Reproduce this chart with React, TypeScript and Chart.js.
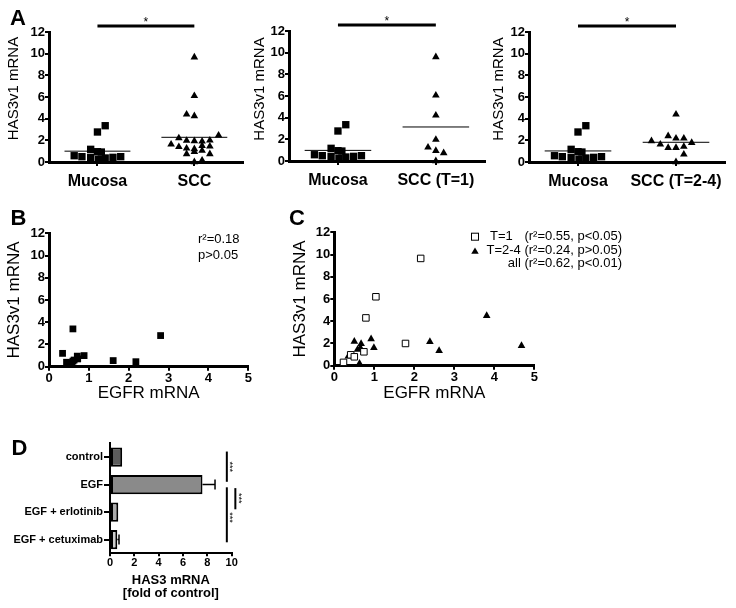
import React, { useEffect, useRef } from "react";
import { Chart, registerables } from "chart.js";

Chart.register(...registerables);

const FONT = "'Liberation Sans', Arial, Helvetica, sans-serif";
Chart.defaults.font.family = FONT;
Chart.defaults.color = "#000";

// ---------------- data ----------------
const has3TickValues = [0, 2, 4, 6, 8, 10, 12];
const egfrTickValues = [0, 1, 2, 3, 4, 5];

const groupsA1 = ["Mucosa", "SCC"];
const groupsA2 = ["Mucosa", "SCC (T=1)"];
const groupsA3 = ["Mucosa", "SCC (T=2-4)"];

const mucosaValues = [0.58, 0.49, 0.43, 0.25, 0.37, 0.43, 0.49, 1.17, 0.95, 0.92, 2.77, 3.35];
const mucosaSpread = [-0.24, -0.16, -0.07, 0.01, 0.08, 0.16, 0.24, -0.07, 0, 0.04, 0, 0.08];

const sccAllValues = [9.67, 6.1, 4.4, 4.25, 1.63, 2.2, 1.97, 1.94, 1.9, 2.0, 2.46, 1.4, 1.26, 1.2, 1.5, 1.45, 0.74, 0.95, 1.05, 0.74, 0, 0.15];
const sccAllSpread = [0, 0, -0.08, 0, -0.24, -0.16, -0.08, 0, 0.08, 0.16, 0.25, -0.16, -0.08, 0, 0.08, 0.16, -0.08, 0, 0.08, 0.16, 0, 0.08];

const sccT1Values = [9.6, 6.06, 4.21, 1.97, 1.26, 0.95, 0.74, 0];
const sccT1Spread = [0, 0, 0, 0, -0.08, 0, 0.08, 0];

const sccT24Values = [4.4, 1.94, 1.63, 2.4, 1.32, 2.19, 1.32, 2.19, 1.42, 1.78, 0.71, 0];
const sccT24Spread = [0, -0.25, -0.16, -0.08, -0.08, 0, 0, 0.08, 0.08, 0.16, 0.08, 0];

const meansA1 = [1.0, 2.28];
const meansA2 = [0.98, 3.14];
const meansA3 = [1.02, 1.82];

const bEgfr = [0.34, 0.44, 0.5, 0.57, 0.6, 0.63, 0.6, 0.71, 0.72, 0.88, 1.61, 2.18, 2.8];
const bHas3 = [1.2, 0.4, 0.3, 0.25, 0.5, 0.6, 3.4, 0.95, 0.7, 1.0, 0.55, 0.45, 2.8];
const bNotes = ["r\u00b2=0.18", "p>0.05"];

const cT1Egfr = [2.16, 1.04, 0.79, 1.78, 0.74, 0.41, 0.5, 0.23];
const cT1Has3 = [9.65, 6.2, 4.3, 2.0, 1.25, 0.98, 0.8, 0.3];
const cT24Egfr = [3.81, 4.68, 2.39, 2.62, 0.92, 0.99, 0.5, 0.67, 0.65, 0.58, 0.35, 0.63];
const cT24Has3 = [4.5, 1.8, 2.16, 1.35, 2.4, 1.62, 2.18, 1.98, 1.62, 1.45, 0.84, 0.2];
const cLegendLeft = ["T=1", "", ""];
const cLegendRight = ["(r\u00b2=0.55, p<0.05)", "T=2-4 (r\u00b2=0.24, p>0.05)", "all (r\u00b2=0.62, p<0.01)"];

const dTreatments = ["control", "EGF", "EGF + erlotinib", "EGF + cetuximab"];
const dFold = [1.0, 7.6, 0.68, 0.6];
const dError = [0, 1.03, 0, 0.14];
const dTickValues = [0, 2, 4, 6, 8, 10];
const dBarColors = ["#5c5c5c", "#8a8a8a", "#ababab", "#cdcdcd"];

// ---------------- helpers ----------------
type Pt = { x: number; y: number };

function spreadPoints(center: number, values: number[], spread: number[]): Pt[] {
  return values.map((v, i) => ({ x: center + spread[i], y: v }));
}
function pairPoints(xs: number[], ys: number[]): Pt[] {
  return xs.map((v, i) => ({ x: v, y: ys[i] }));
}

function baseOptions(padding: any) {
  return {
    responsive: false,
    animation: false as const,
    devicePixelRatio: 1,
    events: [] as any[],
    layout: { padding },
    plugins: { legend: { display: false }, tooltip: { enabled: false }, title: { display: false } },
  };
}

function gridStyle(tickLength: number) {
  return { display: true, drawOnChartArea: false, drawTicks: true, tickLength, color: "#000", lineWidth: 2 };
}
function borderStyle(width: number) {
  return { display: true, color: "#000", width };
}

function has3Scale(axisWidth: number, title: any) {
  return {
    type: "linear",
    position: "left",
    min: 0,
    max: 12,
    afterFit: (s: any) => {
      s.width = axisWidth;
    },
    afterBuildTicks: (s: any) => {
      s.ticks = has3TickValues.map((value) => ({ value }));
    },
    ticks: { font: { size: 13, weight: "bold" }, color: "#000", padding: 0 },
    grid: gridStyle(4),
    border: borderStyle(3),
    title,
  };
}

function has3Title(size: number, padTop: number) {
  return { display: true, text: "HAS3v1 mRNA", font: { size }, color: "#000", padding: { top: padTop, bottom: 0 } };
}

function egfrScale(height: number) {
  return {
    type: "linear",
    position: "bottom",
    min: 0,
    max: 5,
    afterFit: (s: any) => {
      s.height = height;
    },
    afterBuildTicks: (s: any) => {
      s.ticks = egfrTickValues.map((value) => ({ value }));
    },
    ticks: { font: { size: 13, weight: "bold" }, color: "#000", padding: 0, maxRotation: 0 },
    grid: gridStyle(4),
    border: borderStyle(3),
    title: { display: true, text: "EGFR mRNA", font: { size: 17 }, color: "#000", padding: { top: 0, bottom: 6.5 } },
  };
}

type DotCfg = {
  groups: string[];
  lowVals: number[];
  lowSpread: number[];
  highVals: number[];
  highSpread: number[];
  means: number[];
  padTop: number;
  padRight: number;
  xHeight: number;
  titleX: number;
  titleY: number;
};

function buildDotChart(canvas: HTMLCanvasElement, cfg: DotCfg) {
  const datasets: any[] = [
    {
      data: spreadPoints(0, cfg.lowVals, cfg.lowSpread),
      pointStyle: "rect",
      pointRadius: 5.2,
      backgroundColor: "#000",
      borderColor: "#000",
      borderWidth: 0,
      clip: false,
    },
    {
      data: spreadPoints(1, cfg.highVals, cfg.highSpread),
      pointStyle: "triangle",
      pointRadius: 4.4,
      backgroundColor: "#000",
      borderColor: "#000",
      borderWidth: 0,
      clip: false,
    },
  ];
  cfg.means.forEach((m, i) =>
    datasets.push({
      data: [
        { x: i - 0.34, y: m },
        { x: i + 0.34, y: m },
      ],
      showLine: true,
      pointRadius: 0,
      borderColor: "#000",
      borderWidth: 1,
      clip: false,
    })
  );
  const deco = {
    id: "dotDeco",
    afterDraw(chart: any) {
      const { ctx, chartArea, scales } = chart;
      const x0 = scales.x.getPixelForValue(0);
      const x1 = scales.x.getPixelForValue(1);
      const yb = chartArea.top - 6;
      ctx.save();
      ctx.strokeStyle = "#000";
      ctx.lineWidth = 3;
      ctx.beginPath();
      ctx.moveTo(x0, yb);
      ctx.lineTo(x1, yb);
      ctx.stroke();
      ctx.fillStyle = "#000";
      ctx.font = `12px ${FONT}`;
      ctx.textAlign = "center";
      ctx.textBaseline = "middle";
      ctx.fillText("*", (x0 + x1) / 2, yb - 3);
      ctx.translate(cfg.titleX, cfg.titleY);
      ctx.rotate(-Math.PI / 2);
      ctx.font = `15px ${FONT}`;
      ctx.fillText("HAS3v1 mRNA", 0, 0);
      ctx.restore();
    },
  };
  return new Chart(canvas, {
    type: "scatter",
    data: { datasets },
    options: {
      ...baseOptions({ top: cfg.padTop, right: cfg.padRight, bottom: 0, left: 0 }),
      scales: {
        x: {
          type: "linear",
          position: "bottom",
          min: -0.5,
          max: 1.5,
          afterFit: (s: any) => {
            s.height = cfg.xHeight;
          },
          afterBuildTicks: (s: any) => {
            s.ticks = cfg.groups.map((_, i) => ({ value: i }));
          },
          ticks: {
            callback: (_v: any, i: number) => cfg.groups[i],
            font: { size: 16, weight: "bold" },
            color: "#000",
            padding: 6,
            maxRotation: 0,
            autoSkip: false,
          },
          grid: gridStyle(4),
          border: borderStyle(3),
        },
        y: has3Scale(49, { display: false }),
      },
    } as any,
    plugins: [deco],
  } as any);
}

function buildA1(c: HTMLCanvasElement) {
  return buildDotChart(c, {
    groups: groupsA1,
    lowVals: mucosaValues,
    lowSpread: mucosaSpread,
    highVals: sccAllValues,
    highSpread: sccAllSpread,
    means: meansA1,
    padTop: 32,
    padRight: 5,
    xHeight: 33,
    titleX: 13.5,
    titleY: 88.5,
  });
}
function buildA2(c: HTMLCanvasElement) {
  return buildDotChart(c, {
    groups: groupsA2,
    lowVals: mucosaValues,
    lowSpread: mucosaSpread,
    highVals: sccT1Values,
    highSpread: sccT1Spread,
    means: meansA2,
    padTop: 31,
    padRight: 5,
    xHeight: 34,
    titleX: 20,
    titleY: 89,
  });
}
function buildA3(c: HTMLCanvasElement) {
  return buildDotChart(c, {
    groups: groupsA3,
    lowVals: mucosaValues,
    lowSpread: mucosaSpread,
    highVals: sccT24Values,
    highSpread: sccT24Spread,
    means: meansA3,
    padTop: 32,
    padRight: 11,
    xHeight: 33,
    titleX: 18.5,
    titleY: 89,
  });
}

function buildB(c: HTMLCanvasElement) {
  const note = {
    id: "bNote",
    afterDraw(chart: any) {
      const ctx = chart.ctx;
      ctx.save();
      ctx.fillStyle = "#000";
      ctx.font = `13px ${FONT}`;
      ctx.textAlign = "left";
      ctx.textBaseline = "middle";
      ctx.fillText(bNotes[0], 198, 39);
      ctx.fillText(bNotes[1], 198, 55.7);
      ctx.restore();
    },
  };
  return new Chart(c, {
    type: "scatter",
    data: {
      datasets: [
        {
          data: pairPoints(bEgfr, bHas3),
          pointStyle: "rect",
          pointRadius: 4.8,
          backgroundColor: "#000",
          borderColor: "#000",
          borderWidth: 0,
          clip: false,
        },
      ],
    },
    options: {
      ...baseOptions({ top: 33.3, right: 31.7, bottom: 0, left: 0 }),
      scales: {
        x: egfrScale(43.3),
        y: has3Scale(49, has3Title(17, 3.8)),
      },
    } as any,
    plugins: [note],
  } as any);
}

function buildC(c: HTMLCanvasElement) {
  const legend = {
    id: "cLegend",
    afterDraw(chart: any) {
      const ctx = chart.ctx;
      const rowsY = [36.7, 50.7, 63.3];
      ctx.save();
      // markers
      ctx.fillStyle = "#fff";
      ctx.strokeStyle = "#000";
      ctx.lineWidth = 1;
      ctx.fillRect(191.5, rowsY[0] - 3.5, 7, 7);
      ctx.strokeRect(191.5, rowsY[0] - 3.5, 7, 7);
      ctx.fillStyle = "#000";
      const r = 4.3;
      const ty = rowsY[1] + 1;
      ctx.beginPath();
      ctx.moveTo(195, ty - r);
      ctx.lineTo(195 + r * 0.866, ty + r / 2);
      ctx.lineTo(195 - r * 0.866, ty + r / 2);
      ctx.closePath();
      ctx.fill();
      ctx.font = `13px ${FONT}`;
      ctx.textBaseline = "middle";
      rowsY.forEach((y, i) => {
        if (cLegendLeft[i]) {
          ctx.textAlign = "left";
          ctx.fillText(cLegendLeft[i], 210, y);
        }
        ctx.textAlign = "right";
        ctx.fillText(cLegendRight[i], 342, y);
      });
      ctx.restore();
    },
  };
  return new Chart(c, {
    type: "scatter",
    data: {
      datasets: [
        {
          data: pairPoints(cT1Egfr, cT1Has3),
          pointStyle: "rect",
          pointRadius: 4.6,
          backgroundColor: "#fff",
          borderColor: "#000",
          borderWidth: 1,
          clip: false,
        },
        {
          data: pairPoints(cT24Egfr, cT24Has3),
          pointStyle: "triangle",
          pointRadius: 4.4,
          backgroundColor: "#000",
          borderColor: "#000",
          borderWidth: 0,
          clip: false,
        },
      ],
    },
    options: {
      ...baseOptions({ top: 32.3, right: 201.7, bottom: 0, left: 0 }),
      scales: {
        x: egfrScale(44.3),
        y: has3Scale(54.3, has3Title(17, 10.3)),
      },
    } as any,
    plugins: [legend],
  } as any);
}

function buildD(c: HTMLCanvasElement) {
  const extras = {
    id: "dExtras",
    afterDatasetsDraw(chart: any) {
      const { ctx, scales } = chart;
      const xs = scales.x;
      const ys = scales.y;
      ctx.save();
      ctx.strokeStyle = "#000";
      ctx.lineWidth = 1.5;
      dFold.forEach((v, i) => {
        const e = dError[i];
        if (!e) return;
        const x0 = xs.getPixelForValue(v);
        const x1 = xs.getPixelForValue(v + e);
        const py = ys.getPixelForValue(i);
        ctx.beginPath();
        ctx.moveTo(x0, py);
        ctx.lineTo(x1, py);
        ctx.moveTo(x1, py - 5);
        ctx.lineTo(x1, py + 5);
        ctx.stroke();
      });
      const comparisons = [
        { xv: 9.6, from: -0.2, to: 0.9, star: 0.35 },
        { xv: 9.6, from: 1.1, to: 3.1, star: 2.2 },
        { xv: 10.3, from: 1.13, to: 1.9, star: 1.5 },
      ];
      ctx.lineWidth = 2;
      ctx.fillStyle = "#000";
      ctx.font = `9px ${FONT}`;
      ctx.textAlign = "center";
      ctx.textBaseline = "middle";
      comparisons.forEach((cmp) => {
        const px = xs.getPixelForValue(cmp.xv);
        ctx.beginPath();
        ctx.moveTo(px, ys.getPixelForValue(cmp.from));
        ctx.lineTo(px, ys.getPixelForValue(cmp.to));
        ctx.stroke();
        ctx.save();
        ctx.translate(px + 3, ys.getPixelForValue(cmp.star));
        ctx.rotate(Math.PI / 2);
        ctx.fillText("***", 0, 0);
        ctx.restore();
      });
      ctx.restore();
    },
  };
  return new Chart(c, {
    type: "bar",
    data: {
      labels: dTreatments,
      datasets: [
        {
          data: dFold,
          backgroundColor: dBarColors,
          borderColor: "#000",
          borderWidth: 2,
          borderSkipped: false,
          categoryPercentage: 1,
          barPercentage: 0.7,
        },
      ],
    },
    options: {
      ...baseOptions({ top: 23.3, right: 28.3, bottom: 0, left: 0 }),
      indexAxis: "y",
      scales: {
        x: {
          type: "linear",
          position: "bottom",
          min: 0,
          max: 10,
          afterFit: (s: any) => {
            s.height = 54.7;
          },
          afterBuildTicks: (s: any) => {
            s.ticks = dTickValues.map((value) => ({ value }));
          },
          ticks: { font: { size: 11, weight: "bold" }, color: "#000", padding: 0, maxRotation: 0 },
          grid: gridStyle(3),
          border: borderStyle(2),
          title: {
            display: true,
            text: ["HAS3 mRNA", "[fold of control]"],
            font: { size: 13, weight: "bold", lineHeight: 1.02 },
            color: "#000",
            padding: { top: 0, bottom: 8 },
          },
        },
        y: {
          type: "category",
          position: "left",
          afterFit: (s: any) => {
            s.width = 110;
          },
          ticks: { font: { size: 11, weight: "bold" }, color: "#000", padding: 1, autoSkip: false },
          grid: { ...gridStyle(6), offset: false },
          border: borderStyle(2),
        },
      },
    } as any,
    plugins: [extras],
  } as any);
}

// ---------------- components ----------------
function ChartCanvas(props: { x: number; y: number; w: number; h: number; build: (c: HTMLCanvasElement) => Chart }) {
  const ref = useRef<HTMLCanvasElement | null>(null);
  const { x, y, w, h, build } = props;
  useEffect(() => {
    if (!ref.current) return;
    const chart = build(ref.current);
    return () => chart.destroy();
  }, [build]);
  return (
    <canvas
      ref={ref}
      width={w}
      height={h}
      style={{ position: "absolute", left: x, top: y, width: w, height: h, display: "block" }}
    />
  );
}

function Letter(props: { x: number; y: number; text: string }) {
  return (
    <div
      style={{
        position: "absolute",
        left: props.x,
        top: props.y,
        fontFamily: FONT,
        fontWeight: "bold",
        fontSize: 22,
        lineHeight: "22px",
        color: "#000",
      }}
    >
      {props.text}
    </div>
  );
}

export default function App() {
  return (
    <div
      style={{
        position: "absolute",
        left: 0,
        top: 0,
        width: 736,
        height: 608,
        background: "#fff",
        overflow: "hidden",
      }}
    >
      <ChartCanvas x={0} y={0} w={248} h={195} build={buildA1} />
      <ChartCanvas x={240} y={0} w={250} h={195} build={buildA2} />
      <ChartCanvas x={480} y={0} w={256} h={195} build={buildA3} />
      <ChartCanvas x={0} y={200} w={280} h={210} build={buildB} />
      <ChartCanvas x={280} y={200} w={456} h={210} build={buildC} />
      <ChartCanvas x={0} y={420} w={260} h={188} build={buildD} />
      <Letter x={10} y={7} text="A" />
      <Letter x={10.5} y={207} text="B" />
      <Letter x={289} y={207} text="C" />
      <Letter x={11.5} y={437} text="D" />
    </div>
  );
}
